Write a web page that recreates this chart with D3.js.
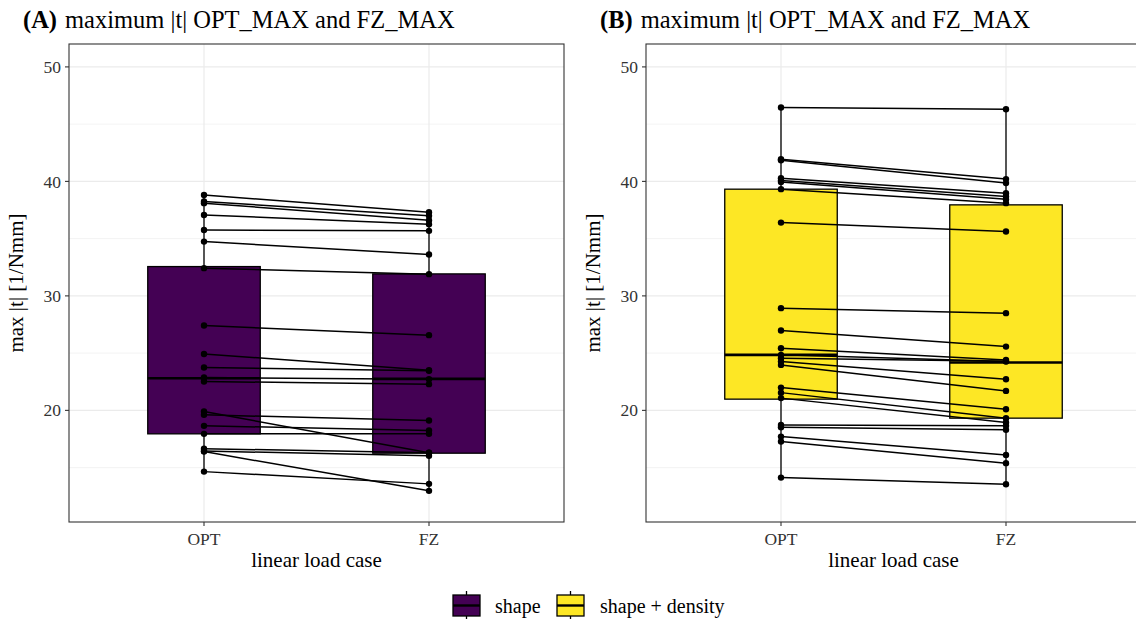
<!DOCTYPE html>
<html><head><meta charset="utf-8">
<script src="https://cdn.jsdelivr.net/npm/d3@7"></script>
<style>body{margin:0;background:#fff;} svg{display:block;} text{font-family:"Liberation Serif","Times New Roman",serif;}</style>
</head><body><svg id="chart" width="1136" height="619"></svg>
<script>
const categories = ["OPT", "FZ"];
const yTicks = [20, 30, 40, 50];
const yMinorTicks = [15, 25, 35, 45];
const seriesNames = ["shape", "shape + density"];
const seriesColors = ["#440154", "#FDE725"];
const panelTitles = ["maximum |t| OPT_MAX and FZ_MAX", "maximum |t| OPT_MAX and FZ_MAX"];
const panelTags = ["(A)", "(B)"];

// Panel A paired values (OPT -> FZ)
const shapeOPT = [38.82, 38.24, 38.1, 37.07, 35.76, 34.74, 32.42, 27.41, 24.93, 23.74, 22.87, 22.52, 19.9, 19.61, 18.65, 17.95, 16.65, 16.45, 16.4, 14.65];
const shapeFZ  = [37.31, 36.99, 36.6, 36.26, 35.68, 33.61, 31.9, 26.57, 23.51, 23.45, 22.72, 22.29, 16.3, 19.11, 18.24, 17.95, 16.3, 16.03, 12.97, 13.58];
// Panel B paired values (OPT -> FZ)
const densOPT = [46.45, 41.94, 41.85, 40.28, 40.07, 39.95, 39.32, 36.4, 28.93, 26.97, 25.43, 24.85, 24.56, 24.26, 23.97, 21.99, 21.55, 21.07, 18.73, 18.53, 17.71, 17.28, 14.13];
const densFZ  = [46.3, 40.2, 39.85, 38.96, 38.67, 38.45, 38.1, 35.62, 28.49, 25.57, 24.41, 24.26, 24.3, 22.72, 21.7, 20.1, 19.32, 18.94, 18.65, 18.3, 16.11, 15.39, 13.55];

// Box statistics: [whiskerLow, Q1, median, Q3, whiskerHigh]
const shapeBoxOPT = [14.65, 17.95, 22.81, 32.56, 38.82];
const shapeBoxFZ  = [12.97, 16.26, 22.75, 31.92, 37.31];
const densBoxOPT  = [14.13, 20.98, 24.85, 39.32, 46.45];
const densBoxFZ   = [13.49, 19.32, 24.18, 37.95, 46.3];

const panels = [
  {tag: panelTags[0], title: panelTitles[0], opt: shapeOPT, fz: shapeFZ, boxes: [shapeBoxOPT, shapeBoxFZ], color: seriesColors[0], left: 69},
  {tag: panelTags[1], title: panelTitles[1], opt: densOPT, fz: densFZ, boxes: [densBoxOPT, densBoxFZ], color: seriesColors[1], left: 646}
];

const svg = d3.select("#chart");
const pTop = 44, pBottom = 522, pw = 495;
const y = d3.scaleLinear().domain([10.25, 52.0]).range([pBottom, pTop]);

panels.forEach(p => {
  const xi = d3.scaleLinear().domain([-0.6, 1.6]).range([p.left, p.left + pw]);
  const xp = c => xi(categories.indexOf(c));
  const step = xi(1) - xi(0);
  const g = svg.append("g");
  g.selectAll(".minor").data(yMinorTicks).join("line")
    .attr("x1", p.left).attr("x2", p.left + pw)
    .attr("y1", d => y(d)).attr("y2", d => y(d))
    .attr("stroke", "#EBEBEB").attr("stroke-width", 0.6);
  g.selectAll(".major").data(yTicks).join("line")
    .attr("x1", p.left).attr("x2", p.left + pw)
    .attr("y1", d => y(d)).attr("y2", d => y(d))
    .attr("stroke", "#EBEBEB").attr("stroke-width", 1.2);
  g.selectAll(".vgrid").data(categories).join("line")
    .attr("x1", d => xp(d)).attr("x2", d => xp(d))
    .attr("y1", pTop).attr("y2", pBottom)
    .attr("stroke", "#EBEBEB").attr("stroke-width", 1.2);

  const bw = step * 0.5;
  categories.forEach((c, i) => {
    const s = p.boxes[i];
    const cx = xp(c);
    g.append("line").attr("x1", cx).attr("x2", cx).attr("y1", y(s[3])).attr("y2", y(s[4]))
      .attr("stroke", "#000").attr("stroke-width", 1.3);
    g.append("line").attr("x1", cx).attr("x2", cx).attr("y1", y(s[1])).attr("y2", y(s[0]))
      .attr("stroke", "#000").attr("stroke-width", 1.3);
    g.append("rect").attr("x", cx - bw / 2).attr("width", bw)
      .attr("y", y(s[3])).attr("height", y(s[1]) - y(s[3]))
      .attr("fill", p.color).attr("stroke", "#000").attr("stroke-width", 1.3);
    g.append("line").attr("x1", cx - bw / 2).attr("x2", cx + bw / 2)
      .attr("y1", y(s[2])).attr("y2", y(s[2]))
      .attr("stroke", "#000").attr("stroke-width", 2.6);
  });

  const pairs = p.opt.map((v, i) => [v, p.fz[i]]);
  g.selectAll(".pair").data(pairs).join("line")
    .attr("x1", xp("OPT")).attr("x2", xp("FZ"))
    .attr("y1", d => y(d[0])).attr("y2", d => y(d[1]))
    .attr("stroke", "#000").attr("stroke-width", 1.5);
  const pts = p.opt.map(v => ["OPT", v]).concat(p.fz.map(v => ["FZ", v]));
  g.selectAll(".pt").data(pts).join("circle")
    .attr("cx", d => xp(d[0])).attr("cy", d => y(d[1])).attr("r", 3.2).attr("fill", "#000");

  g.append("rect").attr("x", p.left).attr("y", pTop).attr("width", pw).attr("height", pBottom - pTop)
    .attr("fill", "none").attr("stroke", "#333").attr("stroke-width", 1.1);

  yTicks.forEach(t => {
    g.append("line").attr("x1", p.left - 4).attr("x2", p.left).attr("y1", y(t)).attr("y2", y(t))
      .attr("stroke", "#333").attr("stroke-width", 1.1);
    g.append("text").attr("x", p.left - 8).attr("y", y(t)).attr("dy", "0.35em")
      .attr("text-anchor", "end").attr("font-size", 17.5).attr("fill", "#333").text(t);
  });
  categories.forEach(c => {
    g.append("line").attr("x1", xp(c)).attr("x2", xp(c)).attr("y1", pBottom).attr("y2", pBottom + 4)
      .attr("stroke", "#333").attr("stroke-width", 1.1);
    g.append("text").attr("x", xp(c)).attr("y", pBottom + 23)
      .attr("text-anchor", "middle").attr("font-size", 17.5).attr("fill", "#333").text(c);
  });
  g.append("text").attr("x", p.left + pw / 2).attr("y", 567).attr("text-anchor", "middle")
    .attr("font-size", 21).attr("fill", "#000").text("linear load case");
  g.append("text").attr("transform", `translate(${p.left - 46},${(pTop + pBottom) / 2}) rotate(-90)`)
    .attr("text-anchor", "middle").attr("font-size", 21).attr("fill", "#000").text("max |t| [1/Nmm]");
  const tt = g.append("text").attr("x", p.left - 46).attr("y", 28).attr("font-size", 24.5).attr("fill", "#000");
  tt.append("tspan").attr("font-weight", "bold").text(p.tag);
  tt.append("tspan").attr("dx", 8).text(p.title);
});

const lg = svg.append("g");
const lx = [453, 557], tx = [495, 600];
seriesNames.forEach((n, i) => {
  const k = lg.append("g");
  const cx = lx[i] + 13.5;
  k.append("line").attr("x1", cx).attr("x2", cx).attr("y1", 591).attr("y2", 619).attr("stroke", "#000").attr("stroke-width", 1.3);
  k.append("rect").attr("x", lx[i]).attr("y", 595).attr("width", 27).attr("height", 21)
    .attr("fill", seriesColors[i]).attr("stroke", "#000").attr("stroke-width", 1.3);
  k.append("line").attr("x1", lx[i]).attr("x2", lx[i] + 27).attr("y1", 605.5).attr("y2", 605.5).attr("stroke", "#000").attr("stroke-width", 2.4);
  lg.append("text").attr("x", tx[i]).attr("y", 605.5).attr("dy", "0.35em").attr("font-size", 20).text(n);
});
</script></body></html>
